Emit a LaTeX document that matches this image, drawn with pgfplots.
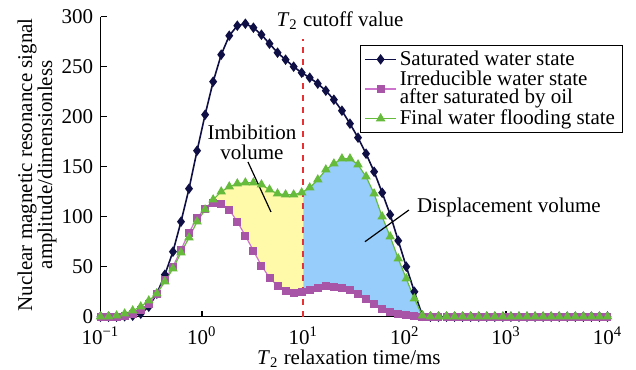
\documentclass[border=0pt]{standalone}
\usepackage{fontspec}
\setmainfont{Liberation Serif}
\usepackage{pgfplots}
\usepackage{pgfplotstable}
\pgfplotsset{compat=1.18}
\usepgfplotslibrary{fillbetween}

\definecolor{navy}{RGB}{15,15,70}
\definecolor{purp}{RGB}{168,85,168}
\definecolor{purpline}{RGB}{205,115,205}
\definecolor{grn}{RGB}{102,187,60}
\definecolor{yel}{RGB}{255,250,170}
\definecolor{blu}{RGB}{150,205,250}
\definecolor{cutred}{RGB}{230,50,50}
\newcommand\lf{\fontsize{10.5}{10}\selectfont}

% x = log10(T2/ms)
\pgfplotstableread{
x S P G
-1.0000 0 0 0
-0.9206 0 0 0
-0.8413 0 0 1
-0.7619 0.5 1 3
-0.6825 1 3 6
-0.6032 3 7 10
-0.5238 10 13 16
-0.4444 23 23 23
-0.3651 42 37 35
-0.2857 65 50 48
-0.2063 95 67 64
-0.1270 128 84 79
-0.0476 166 99 95
0.0317 202 108 107
0.1111 235 114 117
0.1905 262 113 125
0.2698 281 107 130
0.3492 291 95 133
0.4286 293 81 134
0.5079 289 66 134
0.5873 282 51 132
0.6667 273 39 127
0.7460 264 31 123
0.8254 257 26 122
0.9048 250 24 122
0.9841 244 25 124
1.0635 239 27 129
1.1429 233 29 137
1.2222 226 31 147
1.3016 217 30 153
1.3810 206 29 158
1.4603 193 27 158
1.5397 179 23 152
1.6190 163 18 140
1.6984 145 13 123
1.7778 124 8 100
1.8571 102 5 80
1.9365 76 3 58
2.0159 50 2 38
2.0952 25 1 18
2.1746 1 0 1
2.2540 0 0 0
2.3333 0 0 0
2.4127 0 0 0
2.4921 0 0 0
2.5714 0 0 0
2.6508 0 0 0
2.7302 0 0 0
2.8095 0 0 0
2.8889 0 0 0
2.9683 0 0 0
3.0476 0 0 0
3.1270 0 0 0
3.2063 0 0 0
3.2857 0 0 0
3.3651 0 0 0
3.4444 0 0 0
3.5238 0 0 0
3.6032 0 0 0
3.6825 0 0 0
3.7619 0 0 0
3.8413 0 0 0
3.9206 0 0 0
4.0000 0 0 0
}\nmr

\begin{document}
\begin{tikzpicture}
\begin{axis}[
  at={(0,0)}, anchor=south west,
  scale only axis, width=253.5pt, height=150pt,
  set layers,
  xmin=-1, xmax=4, ymin=0, ymax=300,
  axis lines=left,
  axis line style={-, line width=0.8pt},
  xtick={-1,0,1,2,3,4},
  xticklabels={10\textsuperscript{−1},10\textsuperscript{0},10\textsuperscript{1},10\textsuperscript{2},10\textsuperscript{3},10\textsuperscript{4}},
  ytick={0,50,100,150,200,250,300},
  tick align=inside,
  major tick length=3pt,
  tick style={line width=0.8pt, black},
  /pgf/number format/assume math mode=true,
  tick label style={font=\fontsize{10.5}{12}\selectfont},
  xticklabel style={yshift=-4.5pt, inner sep=0.5pt},
  yticklabel style={inner ysep=0.5pt, inner xsep=2pt, xshift=-1.5pt},
  xlabel={\textit{T}\textsubscript{2} relaxation time/ms},
  xlabel style={at={(axis description cs:0.49,-0.14)}, anchor=center, font=\lf, inner sep=0.5pt},
  ylabel={Nuclear magnetic resonance signal\\amplitude/dimensionless},
  ylabel style={at={(axis description cs:-0.1252,0.506)}, anchor=center, align=center, font=\fontsize{10.5}{10}\selectfont},
  clip=false,
  legend cell align=left,
  legend style={at={(0.512,0.905)}, anchor=north west, draw=black,
     font=\fontsize{10.5}{9}\selectfont, inner xsep=2pt, inner ysep=1pt,
     row sep=-1.5pt, nodes={align=left, inner sep=1.5pt}},
  legend image code/.code={\draw[mark repeat=2,mark phase=2] plot coordinates {(0cm,0cm) (0.27cm,0cm) (0.54cm,0cm)};},
]
\addplot[navy, line width=0.8pt, mark=diamond*, mark size=2pt, mark options={fill=navy, draw=navy}] table[x=x,y=S]{\nmr};
\addlegendentry{Saturated water state}
\addplot[purpline, line width=0.6pt, name path=P, mark=square*, mark size=1.7pt, mark options={fill=purp, draw=purp}] table[x=x,y=P]{\nmr};
\addlegendentry{Irreducible water state\\after saturated by oil}
\addplot[grn, line width=0.6pt, name path=G, mark=triangle*, mark size=2.2pt, mark options={fill=grn, draw=grn}] table[x=x,y=G]{\nmr};
\addlegendentry{Final water flooding state}

\addplot[fill=yel, draw=none, forget plot] fill between[of=G and P, soft clip={domain=0.05:1}];
\addplot[fill=blu, draw=none, forget plot] fill between[of=G and P, soft clip={domain=1:2.3}];

\draw[cutred, dashed, line width=0.8pt] (axis cs:1,0) -- (axis cs:1,278);
\node[font=\lf] at (axis cs:1.362,296) {\textit{T}\textsubscript{2} cutoff value};
\node[font=\fontsize{10.5}{10}\selectfont, align=center] at (axis cs:0.494,174.7) {Imbibition\\volume};
\draw[line width=0.6pt] (axis cs:0.4546,154.7) -- (axis cs:0.6815,104.7);
\node[font=\lf] at (axis cs:3.028,109.7) {Displacement volume};
\draw[line width=0.6pt] (axis cs:2.042,106.7) -- (axis cs:1.608,75);
\end{axis}
\pgfresetboundingbox
\path[use as bounding box] (-50.25pt,-26.15pt) rectangle (267.75pt,158.35pt);
\end{tikzpicture}
\end{document}
